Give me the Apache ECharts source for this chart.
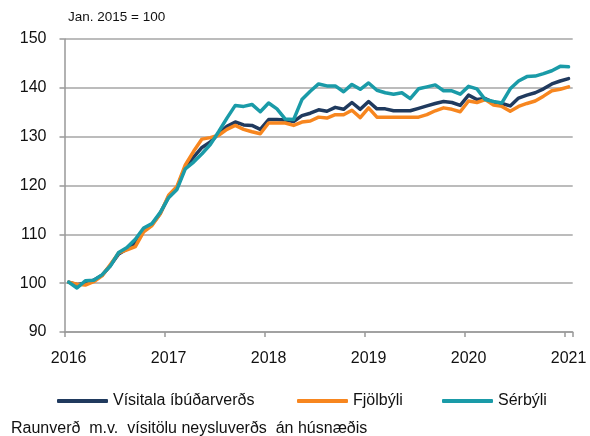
<!DOCTYPE html>
<html>
<head>
<meta charset="utf-8">
<script src="https://cdn.jsdelivr.net/npm/echarts@6/dist/echarts.min.js"></script>
<style>html,body{margin:0;padding:0;background:#fff}#c{width:590px;height:436px}</style>
</head>
<body>
<div id="c"></div>
<script>
// Monthly categories Jan 2016 .. Jan 2021
const years = [2016, 2017, 2018, 2019, 2020, 2021];
const categories = [];
for (const y of years) {
  for (let m = 1; m <= 12; m++) {
    if (y === 2021 && m > 1) break;
    categories.push(y + '-' + String(m).padStart(2, '0'));
  }
}
const seriesNames = ['Vísitala íbúðarverðs', 'Fjölbýli', 'Sérbýli'];
const visitala = [100.2, 99.7, 100.0, 100.6, 101.6, 103.6, 106.0, 107.0, 108.2, 111.0, 112.0, 114.3,
  117.7, 119.5, 123.8, 125.8, 127.8, 128.9, 130.6, 132.1, 133.0, 132.4, 132.3, 131.5,
  133.5, 133.5, 133.4, 133.1, 134.3, 134.8, 135.5, 135.2, 136.0, 135.6, 137.0, 135.6,
  137.2, 135.7, 135.7, 135.3, 135.3, 135.3, 135.8, 136.3, 136.8, 137.2, 137.0, 136.4,
  138.5, 137.6, 137.8, 137.0, 136.8, 136.3, 137.9, 138.5, 139.0, 139.8, 140.8, 141.4,
  141.9];
const fjolbyli = [100.2, 99.8, 99.6, 100.3, 101.5, 103.8, 106.2, 106.8, 107.5, 110.5, 111.8, 114.2,
  118.0, 119.8, 124.2, 127.0, 129.5, 129.8, 130.3, 131.5, 132.3, 131.5, 131.0, 130.6,
  132.8, 132.8, 132.8, 132.3, 133.0, 133.2, 134.0, 133.8, 134.5, 134.5, 135.4, 133.9,
  135.9, 134.0, 134.0, 134.0, 134.0, 134.0, 134.0, 134.5, 135.3, 135.9, 135.6, 135.1,
  137.3, 137.0, 137.6, 136.5, 136.2, 135.2, 136.2, 136.8, 137.3, 138.3, 139.4, 139.7,
  140.2];
const serbyli = [100.2, 99.0, 100.5, 100.6, 101.7, 103.5, 106.3, 107.3, 109.0, 111.3, 112.2, 114.5,
  117.5, 119.2, 123.4, 124.8, 126.5, 128.4, 131.0, 133.8, 136.4, 136.2, 136.6, 135.1,
  136.9, 135.7, 133.6, 133.5, 137.6, 139.3, 140.8, 140.4, 140.4, 139.2, 140.7, 139.7,
  141.0, 139.5, 139.0, 138.7, 139.0, 137.8, 139.8, 140.2, 140.6, 139.4, 139.4, 138.7,
  140.3, 139.8, 137.6, 137.2, 136.9, 139.8, 141.4, 142.3, 142.4, 142.9, 143.5, 144.4,
  144.3];
const colors = ['#203a5e', '#f7861f', '#1a9ba8'];
const subtitle = 'Jan. 2015 = 100';
const footnote = 'Raunverð  m.v.  vísitölu neysluverðs  án húsnæðis';

const chart = echarts.init(document.getElementById('c'), null, {renderer: 'canvas'});
const font = 'Liberation Sans, Arial, sans-serif';
const mk = (name, data, color) => ({
  name, type: 'line', data, symbol: 'none', smooth: false,
  lineStyle: {color, width: 3.5, cap: 'round', join: 'round'},
  itemStyle: {color}
});
const legendLefts = [57, 297, 442];
chart.setOption({
  animation: false,
  textStyle: {fontFamily: font},
  title: [
    {text: subtitle, left: 68, top: 10, padding: 0, textStyle: {fontSize: 13.5, fontWeight: 'normal', color: '#111', fontFamily: font}},
    {text: footnote, left: 11, top: 421, padding: 0, textStyle: {fontSize: 16, fontWeight: 'normal', color: '#111', fontFamily: font}}
  ],
  grid: {left: 64.5, right: 17.3, top: 39, bottom: 104, containLabel: false},
  legend: seriesNames.map((n, i) => ({
    data: [n], left: legendLefts[i], top: 393, padding: 0, itemWidth: 51, itemHeight: 4,
    icon: 'roundRect', selectedMode: false,
    textStyle: {fontSize: 16, color: '#111', fontFamily: font}
  })),
  xAxis: {
    type: 'category', data: categories, boundaryGap: true,
    axisLine: {lineStyle: {color: '#999', width: 1.5}},
    axisTick: {show: true, interval: 11, length: 5, lineStyle: {color: '#999', width: 1.5}},
    axisLabel: {interval: 11, margin: 19, fontSize: 16, color: '#111', fontFamily: font,
      formatter: v => v.slice(0, 4)},
    splitLine: {show: false}
  },
  yAxis: {
    type: 'value', min: 90, max: 150, interval: 10,
    axisLine: {show: true, lineStyle: {color: '#999', width: 1.5}},
    axisTick: {show: true, length: 5, lineStyle: {color: '#999', width: 1.5}},
    axisLabel: {fontSize: 16, color: '#111', margin: 18, fontFamily: font},
    splitLine: {show: true, lineStyle: {color: '#a6a6a6', width: 1.5}}
  },
  series: [
    mk(seriesNames[0], visitala, colors[0]),
    mk(seriesNames[1], fjolbyli, colors[1]),
    mk(seriesNames[2], serbyli, colors[2])
  ]
});
</script>
</body>
</html>
